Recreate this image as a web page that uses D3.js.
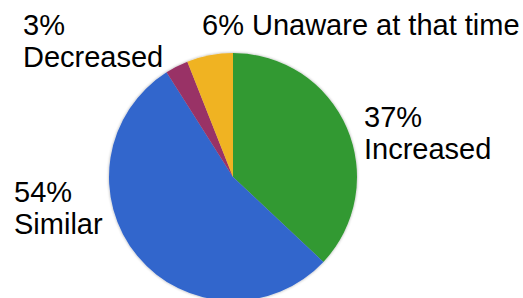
<!DOCTYPE html>
<html>
<head>
<meta charset="utf-8">
<script src="https://cdn.jsdelivr.net/npm/d3@7"></script>
<style>
  body { margin: 0; background: #fff; }
  text { font-family: "Liberation Sans", Arial, sans-serif; fill: #000; }
</style>
</head>
<body>
<svg id="chart" width="523" height="298"></svg>
<script>
/* data */
var categories = ["Increased", "Similar", "Decreased", "Unaware at that time"];
var values = [37, 54, 3, 6];
var colors = ["#339933", "#3366cc", "#993366", "#f0b323"];

var svg = d3.select("#chart");
var width = +svg.attr("width");
var height = +svg.attr("height");

var cx = 233, cy = 177, radius = 124;

// soft shadow round the pie
var defs = svg.append("defs");
var filter = defs.append("filter").attr("id", "shadow")
  .attr("x", "-10%").attr("y", "-10%").attr("width", "120%").attr("height", "120%");
filter.append("feGaussianBlur").attr("in", "SourceAlpha").attr("stdDeviation", 1.5).attr("result", "blur");
filter.append("feComponentTransfer").attr("in", "blur").attr("result", "soft")
  .append("feFuncA").attr("type", "linear").attr("slope", 0.35);
var merge = filter.append("feMerge");
merge.append("feMergeNode").attr("in", "soft");
merge.append("feMergeNode").attr("in", "SourceGraphic");

var pie = d3.pie().sort(null).value(function(d) { return d; });
var arc = d3.arc().innerRadius(0).outerRadius(radius);

var g = svg.append("g")
  .attr("transform", "translate(" + cx + "," + cy + ")")
  .attr("filter", "url(#shadow)");

g.selectAll("path")
  .data(pie(values))
  .enter()
  .append("path")
    .attr("d", arc)
    .attr("fill", function(d, i) { return colors[i]; });

// labels: x, y of first baseline, single line or two
var labelPos = [
  { x: 364, y: 127, oneLine: false },
  { x: 14, y: 202, oneLine: false },
  { x: 23, y: 35, oneLine: false },
  { x: 202, y: 35, oneLine: true }
];

var fontSize = 29, lineH = 32;

labelPos.forEach(function(p, i) {
  var t = svg.append("text")
    .attr("x", p.x)
    .attr("y", p.y)
    .style("font-size", fontSize + "px");
  if (p.oneLine) {
    t.text(values[i] + "% " + categories[i]);
  } else {
    t.append("tspan").attr("x", p.x).attr("y", p.y).text(values[i] + "%");
    t.append("tspan").attr("x", p.x).attr("y", p.y + lineH).text(categories[i]);
  }
});
</script>
</body>
</html>
